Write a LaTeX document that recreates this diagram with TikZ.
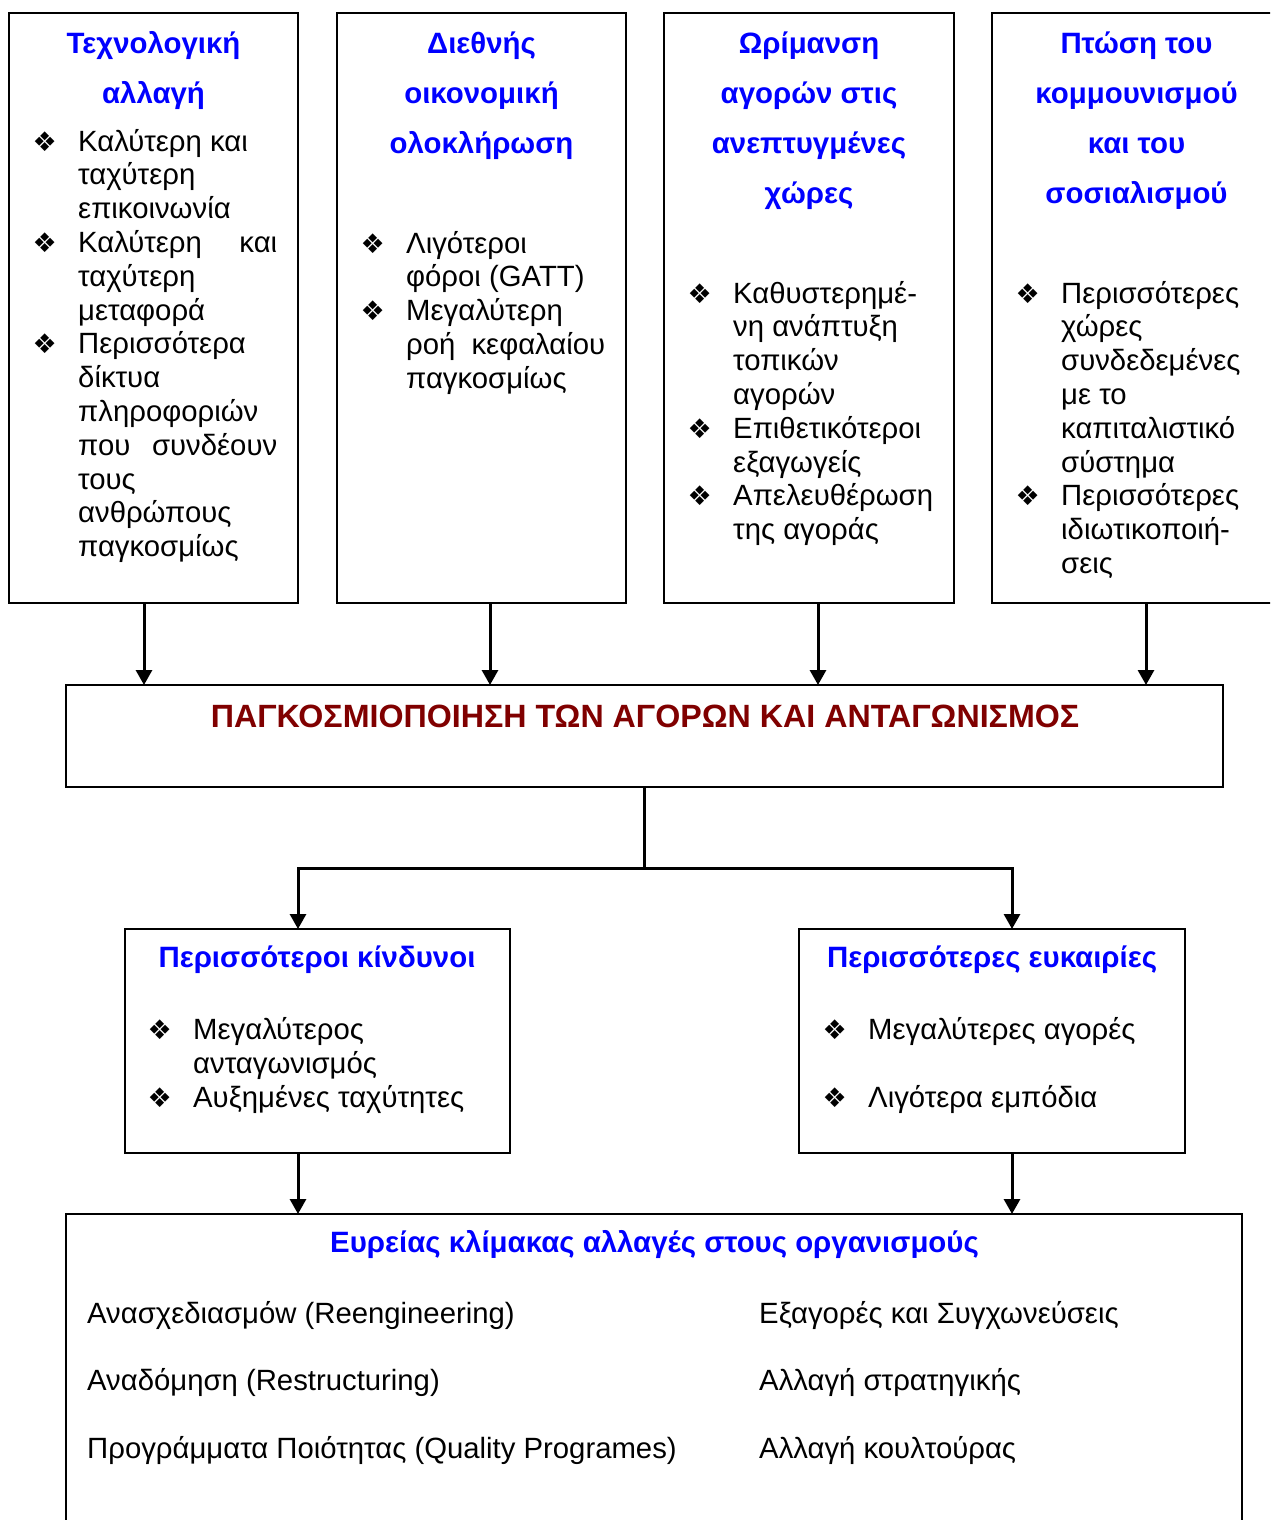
\documentclass[tikz,border=0pt]{standalone}
\usepackage{fontspec}
\setmainfont{Liberation Sans}
\newfontfamily\symf{DejaVu Sans}
\usetikzlibrary{arrows.meta}
\definecolor{ttlblue}{RGB}{0,0,255}
\definecolor{ttlred}{RGB}{128,0,0}
\newcommand\bodyfont{\fontsize{29.3}{33.8}\selectfont}
\newcommand\ttlfont{\fontsize{29.4}{50.3}\selectfont\bfseries}
\newcommand\bul{\makebox[45.5pt][l]{\symf\fontsize{27}{27}\selectfont ❖}}
\newcommand\ind{\hspace*{45.5pt}}
\newcommand\jst[2]{\hbox to 199pt{#1\hfill #2}}
\begin{document}
\begin{tikzpicture}[x=1pt,y=-1pt,
  box/.style={draw, line width=2pt, rectangle, inner sep=0pt, outer sep=0pt},
  conn/.style={line width=3pt},
  arr/.style={line width=3pt, -{Triangle[length=15pt,width=16pt]}},
  ttl/.style={text=ttlblue, inner sep=0pt, font=\ttlfont},
  txt/.style={inner sep=0pt, font=\bodyfont}]
\clip (0,0) rectangle (1270,1520);
% boxes
\node[box, minimum width=289pt, minimum height=590pt, anchor=north west] (b1) at (9,13) {};
\node[box, minimum width=289pt, minimum height=590pt, anchor=north west] (b2) at (337,13) {};
\node[box, minimum width=290pt, minimum height=590pt, anchor=north west] (b3) at (664,13) {};
\node[box, minimum width=289pt, minimum height=590pt, anchor=north west] (b4) at (992,13) {};
\node[box, minimum width=1157pt, minimum height=102pt, anchor=north west] (mid) at (66,685) {};
\node[box, minimum width=385pt, minimum height=224pt, anchor=north west] (lk) at (125,929) {};
\node[box, minimum width=386pt, minimum height=224pt, anchor=north west] (op) at (799,929) {};
\node[box, minimum width=1176pt, minimum height=346pt, anchor=north west] (bot) at (66,1214) {};
% titles
\node[ttl, anchor=base] (h1) at (153.5,53) {\parbox[t]{280pt}{\centering Τεχνολογική\\αλλαγή}};
\node[ttl, anchor=base] (h2) at (481.5,53) {\parbox[t]{280pt}{\centering Διεθνής\\οικονομική\\ολοκλήρωση}};
\node[ttl, anchor=base] (h3) at (809,53) {\parbox[t]{280pt}{\centering Ωρίμανση\\αγορών στις\\ανεπτυγμένες\\χώρες}};
\node[ttl, anchor=base] (h4) at (1136.5,53) {\parbox[t]{280pt}{\centering Πτώση του\\κομμουνισμού\\και του\\σοσιαλισμού}};
\node[anchor=base, inner sep=0pt, text=ttlred, font=\fontsize{32.2}{36}\selectfont\bfseries] (mt) at (645,727) {ΠΑΓΚΟΣΜΙΟΠΟΙΗΣΗ ΤΩΝ ΑΓΟΡΩΝ ΚΑΙ ΑΝΤΑΓΩΝΙΣΜΟΣ};
\node[ttl, anchor=base] (h5) at (317,967) {Περισσότεροι κίνδυνοι};
\node[ttl, anchor=base] (h6) at (992,967) {Περισσότερες ευκαιρίες};
\node[ttl, anchor=base] (h7) at (654.5,1252) {Ευρείας κλίμακας αλλαγές στους οργανισμούς};
% body texts
\node[txt, anchor=base west] (t1) at (32.5,151) {\parbox[t]{260pt}{%
\bul Καλύτερη και\\
\ind ταχύτερη\\
\ind επικοινωνία\\
\bul \jst{Καλύτερη}{και}\\
\ind ταχύτερη\\
\ind μεταφορά\\
\bul Περισσότερα\\
\ind δίκτυα\\
\ind πληροφοριών\\
\ind \jst{που}{συνδέουν}\\
\ind τους\\
\ind ανθρώπους\\
\ind παγκοσμίως}};
\node[txt, anchor=base west] (t2) at (360.5,253) {\parbox[t]{260pt}{%
\bul Λιγότεροι\\
\ind φόροι (GATT)\\
\bul Μεγαλύτερη\\
\ind \jst{ροή}{κεφαλαίου}\\
\ind παγκοσμίως}};
\node[txt, anchor=base west] (t3) at (687.5,303) {\parbox[t]{260pt}{%
\bul Καθυστερημέ-\\
\ind νη ανάπτυξη\\
\ind τοπικών\\
\ind αγορών\\
\bul Επιθετικότεροι\\
\ind εξαγωγείς\\
\bul Απελευθέρωση\\
\ind της αγοράς}};
\node[txt, anchor=base west] (t4) at (1015.5,303) {\parbox[t]{260pt}{%
\bul Περισσότερες\\
\ind χώρες\\
\ind συνδεδεμένες\\
\ind με το\\
\ind καπιταλιστικό\\
\ind σύστημα\\
\bul Περισσότερες\\
\ind ιδιωτικοποιή-\\
\ind σεις}};
\node[txt, anchor=base west] (t5) at (147.5,1039.5) {\parbox[t]{360pt}{%
\bul Μεγαλύτερος\\
\ind ανταγωνισμός\\
\bul Αυξημένες ταχύτητες}};
\node[txt, anchor=base west] (t6) at (822.5,1039.5) {\parbox[t]{360pt}{%
\bul Μεγαλύτερες αγορές\\[33.8pt]
\bul Λιγότερα εμπόδια}};
\node[txt, anchor=base west] (t7) at (87,1323) {\parbox[t]{660pt}{%
Ανασχεδιασμόw (Reengineering)\\[33.7pt]
Αναδόμηση (Restructuring)\\[33.7pt]
Προγράμματα Ποιότητας (Quality Programes)}};
\node[txt, anchor=base west] (t8) at (759,1323) {\parbox[t]{460pt}{%
Εξαγορές και Συγχωνεύσεις\\[33.7pt]
Αλλαγή στρατηγικής\\[33.7pt]
Αλλαγή κουλτούρας}};
% connectors
\draw[arr] ([xshift=-9.5pt]b1.south) -- ([xshift=-9.5pt]b1.south |- mid.north);
\draw[arr] ([xshift=8.5pt]b2.south) -- ([xshift=8.5pt]b2.south |- mid.north);
\draw[arr] ([xshift=9pt]b3.south) -- ([xshift=9pt]b3.south |- mid.north);
\draw[arr] ([xshift=9.5pt]b4.south) -- ([xshift=9.5pt]b4.south |- mid.north);
\coordinate (jl) at (298,868);
\coordinate (jr) at (1012,868);
\coordinate (j) at (mid.south |- jl);
\draw[conn] (mid.south) -- (j);
\draw[arr] (j) -| (lk.north -| jl);
\draw[arr] (j) -| (op.north -| jr);
\draw[arr] (lk.south -| jl) -- (bot.north -| jl);
\draw[arr] (op.south -| jr) -- (bot.north -| jr);
\end{tikzpicture}
\end{document}
